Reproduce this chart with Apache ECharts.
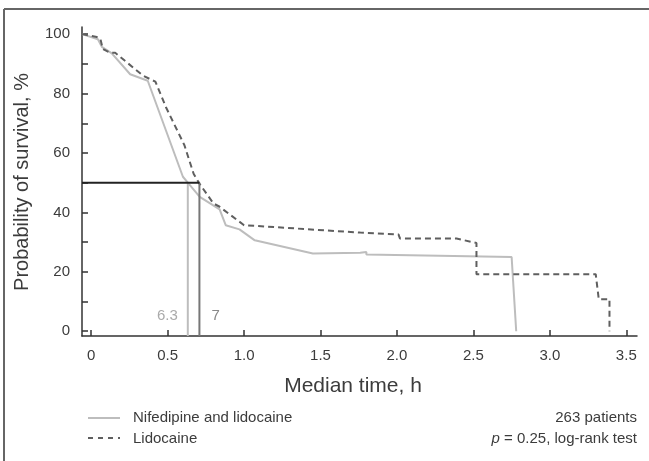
<!DOCTYPE html>
<html>
<head>
<meta charset="utf-8">
<script src="https://cdn.jsdelivr.net/npm/echarts@6/dist/echarts.min.js"></script>
<style>
html,body{margin:0;padding:0;background:#fff;}
#chart{width:649px;height:461px;}
</style>
</head>
<body>
<div id="chart"></div>
<script>
// ---- data ----
const nifeTime = [-0.06, 0.044, 0.07, 0.135, 0.255, 0.37, 0.60, 0.632, 0.71, 0.84, 0.88, 0.97, 1.07, 1.45, 1.76, 1.80, 1.80, 2.75, 2.78];
const nifeSurv = [100, 98.3, 95.7, 93.5, 86.5, 84.3, 52, 50, 45.2, 41, 35.7, 34.3, 30.6, 26.2, 26.4, 26.7, 25.8, 25.0, 0];
const lidoTime = [-0.06, 0.037, 0.06, 0.076, 0.124, 0.157, 0.34, 0.42, 0.49, 0.61, 0.67, 0.708, 0.80, 0.84, 1.0, 1.76, 2.01, 2.02, 2.39, 2.52, 2.52, 3.30, 3.32, 3.39, 3.39];
const lidoSurv = [100, 99, 98.5, 95, 93.7, 93.7, 86, 84, 75.3, 62.6, 53, 49.7, 43, 41.9, 35.7, 33.2, 32.6, 31.2, 31.2, 29.7, 19.2, 19.2, 10.8, 10.8, 0];
const medianNife = 0.632;
const medianLido = 0.708;
const medianLabels = ['6.3', '7'];
const xTicks = [0, 0.5, 1.0, 1.5, 2.0, 2.5, 3.0, 3.5];
const xTickLabels = ['0', '0.5', '1.0', '1.5', '2.0', '2.5', '3.0', '3.5'];
const yMinorTicks = [0, 10, 20, 30, 40, 50, 60, 70, 80, 90, 100];
const yTickLabels = [0, 20, 40, 60, 80, 100];
const seriesNames = ['Nifedipine and lidocaine', 'Lidocaine'];
const noteLines = ['263 patients', '= 0.25, log-rank test'];

const X_MIN = -0.06, X_MAX = 3.57, Y_MIN = -1.6, Y_MAX = 102.4;
const FONT = '"Liberation Sans", Arial, sans-serif';
const TXT = '#3c3c3c';

const chart = echarts.init(document.getElementById('chart'), null, {renderer: 'canvas'});

const zip = (a, b) => a.map((v, i) => [v, b[i]]);

const option = {
  animation: false,
  backgroundColor: '#fff',
  grid: {left: 82, right: 12, top: 27, bottom: 125, containLabel: false},
  xAxis: {
    type: 'value', min: X_MIN, max: X_MAX,
    axisLine: {show: true, onZero: false, lineStyle: {color: '#333', width: 1.5}},
    axisTick: {show: true, inside: true, length: 6, customValues: xTicks, lineStyle: {color: '#333', width: 1.5}},
    axisLabel: {
      customValues: xTicks, margin: 12, color: TXT, fontSize: 15, fontFamily: FONT,
      formatter: v => xTickLabels[xTicks.findIndex(t => Math.abs(t - v) < 1e-9)]
    },
    splitLine: {show: false}
  },
  yAxis: {
    type: 'value', min: Y_MIN, max: Y_MAX,
    axisLine: {show: true, onZero: false, lineStyle: {color: '#333', width: 1.5}},
    axisTick: {show: true, inside: true, length: 6, customValues: yMinorTicks, lineStyle: {color: '#333', width: 1.5}},
    axisLabel: {customValues: yTickLabels, margin: 12, color: TXT, fontSize: 15, fontFamily: FONT},
    splitLine: {show: false}
  },
  series: [
    {
      name: seriesNames[0], type: 'line', data: zip(nifeTime, nifeSurv), showSymbol: false, symbol: 'none',
      lineStyle: {color: '#bdbdbd', width: 2}, z: 3
    },
    {
      name: seriesNames[1], type: 'line', data: zip(lidoTime, lidoSurv), showSymbol: false, symbol: 'none',
      lineStyle: {color: '#5f5f5f', width: 2, type: [6, 4]}, z: 4
    },
    {
      type: 'line', data: [[medianNife, 50], [medianNife, Y_MIN]], symbol: 'none',
      lineStyle: {color: '#bdbdbd', width: 2}, z: 5
    },
    {
      type: 'line', data: [[medianLido, 50], [medianLido, Y_MIN]], symbol: 'none',
      lineStyle: {color: '#777', width: 2}, z: 5
    },
    {
      type: 'line', data: [[X_MIN, 50], [medianLido, 50]], symbol: 'none',
      lineStyle: {color: '#222', width: 2}, z: 6
    }
  ],
  graphic: []
};
chart.setOption(option);

const p6 = chart.convertToPixel({gridIndex: 0}, [medianNife, 5]);
const p7 = chart.convertToPixel({gridIndex: 0}, [medianLido, 5]);

chart.setOption({
  graphic: [
    // frame
    {type: 'line', shape: {x1: 4, y1: 9, x2: 649, y2: 9}, style: {stroke: '#666', lineWidth: 2}},
    {type: 'line', shape: {x1: 4, y1: 9, x2: 4, y2: 461}, style: {stroke: '#666', lineWidth: 2}},
    // median labels
    {type: 'text', x: p6[0] - 10, y: 316, style: {text: medianLabels[0], fill: '#aaa', fontSize: 15, fontFamily: FONT, align: 'right', verticalAlign: 'middle'}},
    {type: 'text', x: p7[0] + 12, y: 316, style: {text: medianLabels[1], fill: '#888', fontSize: 15, fontFamily: FONT, align: 'left', verticalAlign: 'middle'}},
    // axis names
    {type: 'text', x: 353, y: 386, style: {text: 'Median time, h', fill: TXT, fontSize: 21, fontFamily: FONT, align: 'center', verticalAlign: 'middle'}},
    {type: 'text', x: 22, y: 182, rotation: Math.PI / 2, style: {text: 'Probability of survival, %', fill: TXT, fontSize: 20, fontFamily: FONT, align: 'center', verticalAlign: 'middle'}},
    // legend
    {type: 'line', shape: {x1: 88, y1: 418, x2: 120, y2: 418}, style: {stroke: '#bdbdbd', lineWidth: 2}},
    {type: 'line', shape: {x1: 88, y1: 438, x2: 120, y2: 438}, style: {stroke: '#5f5f5f', lineWidth: 2, lineDash: [5, 5]}},
    {type: 'text', x: 133, y: 418, style: {text: seriesNames[0], fill: TXT, fontSize: 15, fontFamily: FONT, align: 'left', verticalAlign: 'middle'}},
    {type: 'text', x: 133, y: 439, style: {text: seriesNames[1], fill: TXT, fontSize: 15, fontFamily: FONT, align: 'left', verticalAlign: 'middle'}},
    {type: 'text', x: 637, y: 418, style: {text: noteLines[0], fill: TXT, fontSize: 15, fontFamily: FONT, align: 'right', verticalAlign: 'middle'}},
    {type: 'text', x: 637, y: 439, style: {
      text: '{i|p} ' + noteLines[1], align: 'right', verticalAlign: 'middle',
      rich: {i: {fontStyle: 'italic', fill: TXT, fontSize: 15, fontFamily: FONT}},
      fill: TXT, fontSize: 15, fontFamily: FONT
    }}
  ]
});
</script>
</body>
</html>
